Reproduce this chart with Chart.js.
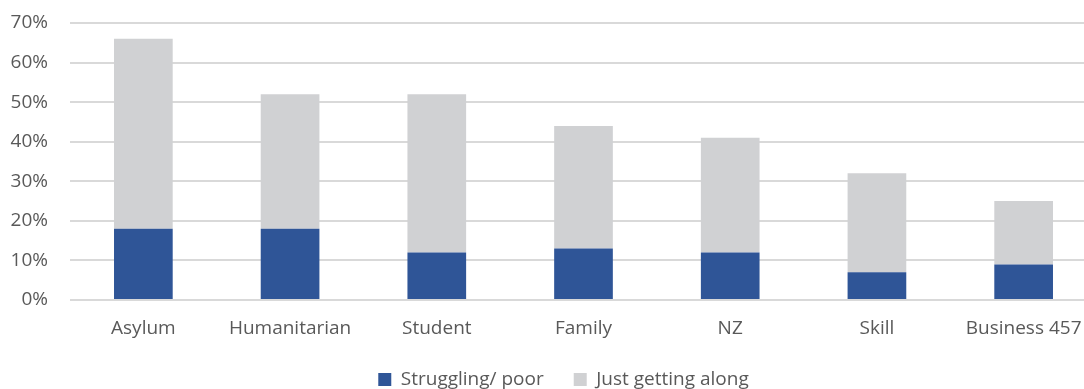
<!DOCTYPE html>
<html>
<head>
<meta charset="utf-8">
<script src="https://cdn.jsdelivr.net/npm/chart.js@4"></script>
<style>
  html, body { margin: 0; padding: 0; background: #fff; overflow: hidden; }
  #wrap { width: 1100px; height: 389px; position: relative; }
</style>
</head>
<body>
<div id="wrap"><canvas id="chart"></canvas></div>
<script>
// Categorías y series (en %)
const CATEGORIES = ["Asylum", "Humanitarian", "Student", "Family", "NZ", "Skill", "Business 457"];
const STRUGGLING = [18, 18, 12, 13, 12, 7, 9];
const GETTING_ALONG = [48, 34, 40, 31, 29, 25, 16];
const SERIES_NAMES = ["Struggling/ poor", "Just getting along"];
const COLORS = ["#2F5597", "#D0D1D3"];

Chart.defaults.font.family = "'Open Sans', sans-serif";
Chart.defaults.color = "#595959";

// La leyenda necesita separación horizontal amplia pero poca altura,
// y va algo corrida a la derecha (el original está recortado)
const legendTweak = {
  id: "legendTweak",
  beforeLayout(chart) {
    const lg = chart.legend;
    if (!lg || lg._patched) return;
    const fit = lg.fit.bind(lg);
    lg.fit = function () { fit(); this.height = 49; };
    lg._patched = true;
  },
  afterLayout(chart) {
    chart.legend.left += 15;
    chart.legend.right += 15;
  },
};

new Chart(document.getElementById("chart"), {
  type: "bar",
  data: {
    labels: CATEGORIES,
    datasets: [
      { label: SERIES_NAMES[0], data: STRUGGLING, backgroundColor: COLORS[0] },
      { label: SERIES_NAMES[1], data: GETTING_ALONG, backgroundColor: COLORS[1] },
    ].map(d => ({ ...d, barPercentage: 0.4, categoryPercentage: 1, borderWidth: 0 })),
  },
  plugins: [legendTweak],
  options: {
    responsive: true,
    maintainAspectRatio: false,
    animation: false,
    layout: { padding: { top: 0, left: 0, right: 3, bottom: 0 } },
    plugins: {
      tooltip: { enabled: false },
      legend: {
        position: "bottom",
        labels: { boxWidth: 13, boxHeight: 13, padding: 30, font: { size: 19 }, color: "#595959" },
      },
    },
    scales: {
      x: {
        stacked: true,
        grid: { display: false },
        border: { display: false },
        ticks: { font: { size: 19 }, padding: 9 },
        afterFit: s => { s.height = 40; },
      },
      y: {
        stacked: true,
        min: 0,
        max: 70,
        border: { display: false },
        grid: { color: "#D9D9D9", lineWidth: 2, drawTicks: false },
        ticks: { stepSize: 10, padding: 22, font: { size: 19 }, callback: v => v + "%" },
        afterFit: s => { s.width = 70; s.paddingTop = 23; },
      },
    },
  },
});
</script>
</body>
</html>
